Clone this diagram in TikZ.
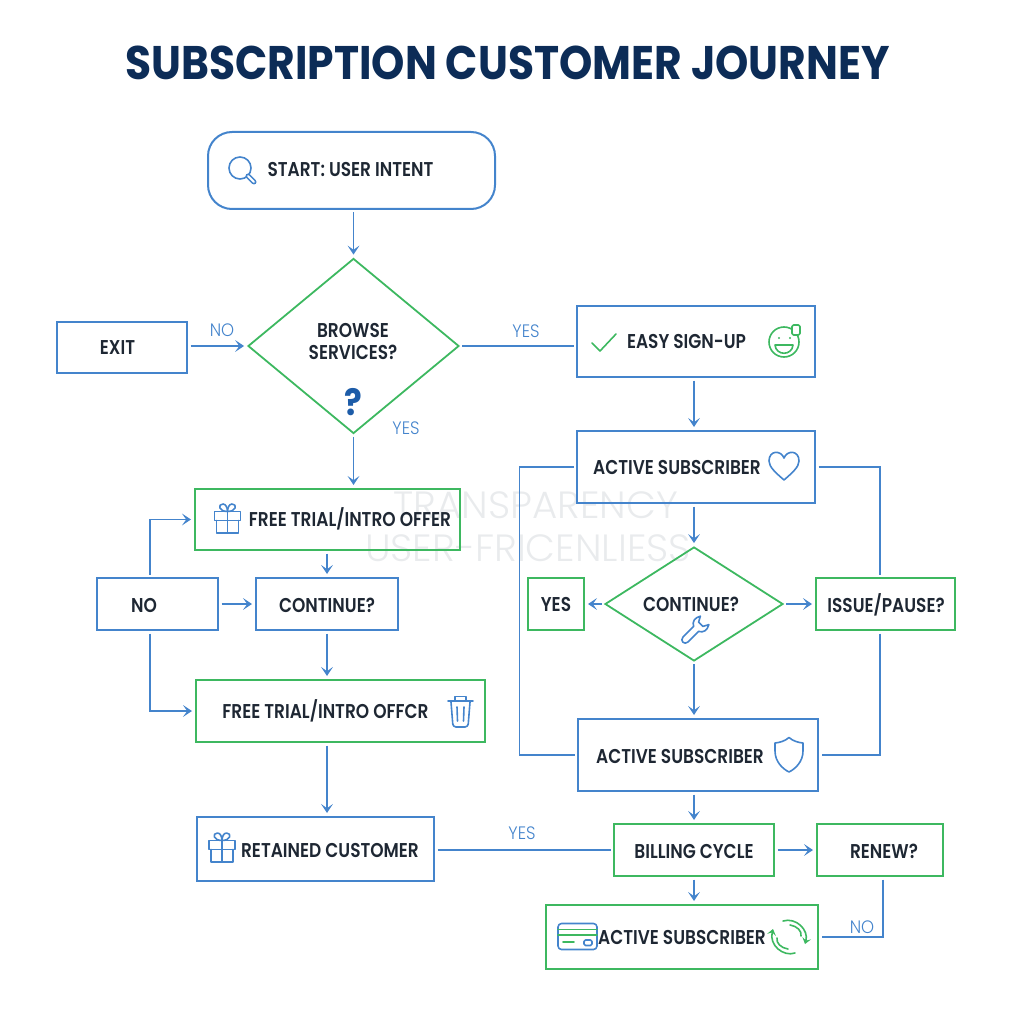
\documentclass[tikz,border=0pt]{standalone}
\usepackage{fontspec}
\usetikzlibrary{arrows.meta,shapes.geometric}
\setmainfont{Poppins}
\newfontfamily\lblfont{Poppins SemiBold}[FakeStretch=0.85]
\newfontfamily\thinfont{Poppins Light}[FakeStretch=0.92]
\newfontfamily\markfont{Poppins Light}[FakeStretch=1.02]
\newfontfamily\titlefont{Poppins}[FakeStretch=0.9,BoldFont={* Bold}]
\newdimen\px
\px=0.025cm
\definecolor{flowblue}{HTML}{4484CC}
\definecolor{flowgreen}{HTML}{3DB860}
\definecolor{inkdark}{HTML}{1E2733}
\definecolor{titlenavy}{HTML}{0C2C57}
\definecolor{markgrey}{HTML}{E9EBED}
\definecolor{querycol}{HTML}{1D5CA8}
\tikzset{
  bluebox/.style={draw=flowblue,line width=2\px,inner sep=0},
  greenbox/.style={draw=flowgreen,line width=2\px,inner sep=0},
  decision/.style={diamond,draw=flowgreen,line width=1.8\px,inner sep=0},
  boxtext/.style={font=\lblfont\fontsize{14.2}{15}\selectfont,text=inkdark,inner sep=0},
  branch/.style={font=\thinfont\fontsize{12.8}{14}\selectfont,text=flowblue,inner sep=0},
  flow/.style={draw=flowblue,line width=1.8\px,shorten <=2.5\px,shorten >=3\px,-{Stealth[length=6.4pt,width=8.4pt,inset=3pt]}},
  plainflow/.style={draw=flowblue,line width=1.8\px,shorten <=2.5\px,shorten >=2.5\px},
  iconblue/.style={draw=flowblue,line width=1.6\px,line join=round,line cap=round},
  icongreen/.style={draw=flowgreen,line width=1.6\px,line join=round,line cap=round},
  gift/.pic={
    \draw[iconblue] (-13,-7.5) rectangle (13,1.5);
    \draw[iconblue] (-11,1.5) -- (-11,14) -- (11,14) -- (11,1.5);
    \draw[iconblue] (0,-7.5) -- (0,14);
    \draw[iconblue] (0,-7.5) .. controls (-9,-7.5) and (-10,-15) .. (-4.5,-15) .. controls (-1.5,-15) and (0,-11) .. (0,-7.5);
    \draw[iconblue] (0,-7.5) .. controls (9,-7.5) and (10,-15) .. (4.5,-15) .. controls (1.5,-15) and (0,-11) .. (0,-7.5);
  }
}
\begin{document}
\begin{tikzpicture}[x=\px,y=-\px]
\useasboundingbox (0,0) rectangle (1024,1024);
% watermark
\node[font=\markfont\fontsize{27}{30}\selectfont,text=markgrey,inner sep=0] (markone) at (536,505) {TRANSPARENCY};
\node[font=\markfont\fontsize{27}{30}\selectfont,text=markgrey,inner sep=0] (marktwo) at (528,548) {USER-FRICENLIESS};

% title
\node[font=\titlefont\bfseries\fontsize{33.5}{38}\selectfont,text=titlenavy,inner sep=0] (title) at (507.5,63) {SUBSCRIPTION CUSTOMER JOURNEY};

% left column
\node[bluebox,rounded corners=24\px,minimum width=287\px,minimum height=77\px] (start) at (351.5,170.5) {};
\node[boxtext] (starttext) at (350.5,170) {START: USER INTENT};
\node[decision,minimum width=211\px,minimum height=175\px] (browse) at (353.5,346) {};
\node[boxtext,align=center] (browsetext) at (353,341.5) {BROWSE\\SERVICES?};
\node[font=\titlefont\bfseries\fontsize{26}{28}\selectfont,text=querycol,inner sep=0] (query) at (353,402) {?};
\node[bluebox,minimum width=130\px,minimum height=51\px] (exit) at (122,347.5) {};
\node[boxtext] (exittext) at (117.5,348) {EXIT};
\node[greenbox,minimum width=265\px,minimum height=61\px] (trial) at (327.5,519.5) {};
\node[boxtext] (trialtext) at (350,519) {FREE TRIAL/INTRO OFFER};
\node[bluebox,minimum width=121\px,minimum height=52\px] (retry) at (157.5,604) {};
\node[boxtext] (retrytext) at (144,605) {NO};
\node[bluebox,minimum width=142\px,minimum height=52\px] (again) at (327,604) {};
\node[boxtext] (againtext) at (327,605) {CONTINUE?};
\node[greenbox,minimum width=289\px,minimum height=62\px] (offer) at (340.5,711) {};
\node[boxtext] (offertext) at (325.5,711) {FREE TRIAL/INTRO OFFCR};
\node[bluebox,minimum width=237\px,minimum height=64\px] (retained) at (315.5,849) {};
\node[boxtext] (retainedtext) at (330,850) {RETAINED CUSTOMER};

% right column
\node[bluebox,minimum width=238\px,minimum height=71\px] (signup) at (696,341.5) {};
\node[boxtext] (signuptext) at (686.5,341.5) {EASY SIGN-UP};
\node[bluebox,minimum width=238\px,minimum height=72\px] (activeone) at (696,467) {};
\node[boxtext] (activeonetext) at (677,467) {ACTIVE SUBSCRIBER};
\node[decision,minimum width=178\px,minimum height=114\px] (keepon) at (694,604) {};
\node[boxtext] (keepontext) at (691,604) {CONTINUE?};
\node[greenbox,minimum width=56\px,minimum height=52\px] (yesbox) at (556,604) {};
\node[boxtext] (yesboxtext) at (556,604.5) {YES};
\node[greenbox,minimum width=139\px,minimum height=52\px] (issue) at (885.5,604) {};
\node[boxtext] (issuetext) at (886,604.5) {ISSUE/PAUSE?};
\node[bluebox,minimum width=240\px,minimum height=72\px] (activetwo) at (698,755) {};
\node[boxtext] (activetwotext) at (680,756) {ACTIVE SUBSCRIBER};
\node[greenbox,minimum width=160\px,minimum height=52\px] (billing) at (694,850) {};
\node[boxtext] (billingtext) at (694,851) {BILLING CYCLE};
\node[greenbox,minimum width=126\px,minimum height=52\px] (renew) at (880,850) {};
\node[boxtext] (renewtext) at (884,851) {RENEW?};
\node[greenbox,minimum width=272\px,minimum height=64\px] (activethree) at (682,937) {};
\node[boxtext] (activethreetext) at (682,937.5) {ACTIVE SUBSCRIBER};

% connectors
\draw[flow] (start.south -| browse.north) -- (browse.north);
\draw[flow] (exit.east |- browse.west) -- (browse.west);
\draw[plainflow] (browse.east) -- (browse.east -| signup.west);
\draw[flow] (browse.south) -- (browse.south |- trial.north);
\draw[flow] (trial.south -| again.north) -- (again.north);
\draw[flow] (retry.east) -- (again.west);
\draw[flow] (retry.north) ++(-7.5,0) |- (trial.west);
\draw[flow] (retry.south) ++(-7.5,0) |- (offer.west);
\draw[flow] (again.south) -- (again.south |- offer.north);
\draw[flow] (offer.south -| again.south) -- (retained.north -| again.south);
\draw[plainflow] (retained.east |- billing.west) -- (billing.west);
\draw[flow] (signup.south -| keepon.north) -- (activeone.north -| keepon.north);
\draw[flow] (activeone.south -| keepon.north) -- (keepon.north);
\draw[flow] (keepon.west) -- (yesbox.east);
\draw[flow] (keepon.east) -- (issue.west);
\draw[flow] (keepon.south) -- (activetwo.north -| keepon.south);
\draw[plainflow] (activeone.west) -- ++(-56.5,0) |- (activetwo.west);
\draw[plainflow] (activeone.east) -| (issue.north -| 880,0);
\draw[plainflow] (issue.south -| 880,0) |- (activetwo.east);
\draw[flow] (activetwo.south -| billing.north) -- (billing.north);
\draw[flow] (billing.east) -- (renew.west);
\draw[flow] (billing.south) -- (activethree.north -| billing.south);
\draw[plainflow] (renew.south) ++(3,0) |- (activethree.east);

% branch labels
\node[branch] (nolabel) at (222,330) {NO};
\node[branch] (yeslabel) at (526,331) {YES};
\node[branch] (yesdown) at (406,428) {YES};
\node[branch] (yesretained) at (522,833) {YES};
\node[branch] (norenew) at (862,927) {NO};

% icons
\draw[iconblue] (240,168) circle (11);
\draw[flowblue,line width=5\px,line cap=round] (248,176) -- (254,182);
\draw[white,line width=2\px,line cap=round] (248,176) -- (254,182);
\draw[icongreen] (592,343) -- (600,351) -- (616,334);
\draw[icongreen] (784,342) circle (15);
\fill[flowgreen] (779,338) circle (1.2);
\fill[flowgreen] (790,338) circle (1.2);
\draw[icongreen] (775,345) -- (793,345) .. controls (792,356) and (776,356) .. (775,345);
\draw[icongreen,fill=white,rounded corners=1.5\px] (792,325) rectangle (800,335);
\draw[iconblue] (784,480) .. controls (776,473) and (769,467) .. (769,461) .. controls (769,450) and (781,450) .. (784,458)
  .. controls (787,450) and (799,450) .. (799,461) .. controls (799,467) and (792,473) .. (784,480) -- cycle;
\begin{scope}[shift={(694,631)},rotate=-45]
  \draw[iconblue] (-3.5,12) .. controls (-3.5,17) and (3.5,17) .. (3.5,12) -- (3.5,-3) .. controls (8,-5) and (9,-10) .. (6,-15)
    -- (3,-9.5) -- (-3,-9.5) -- (-6,-15) .. controls (-9,-10) and (-8,-5) .. (-3.5,-3) -- cycle;
\end{scope}
\draw[iconblue] (789,737.5) .. controls (785,741) and (780,742.5) .. (775,743) -- (775,751) .. controls (775,762) and (783,769) .. (789,772)
  .. controls (795,769) and (803,762) .. (803,751) -- (803,743) .. controls (798,742.5) and (793,741) .. (789,737.5) -- cycle;
\draw[iconblue] (448,701) -- (473,701);
\draw[iconblue] (455,701) -- (455,696.5) -- (466,696.5) -- (466,701);
\draw[iconblue,rounded corners=3\px] (451,702) -- (453,727) -- (468,727) -- (470,702);
\draw[iconblue] (457,707) -- (457.5,721);
\draw[iconblue] (464,707) -- (463.5,721);
\pic at (227.5,519) {gift};
\pic at (222,848) {gift};
\draw[iconblue,rounded corners=3.5\px] (558,923.5) rectangle (597,949.5);
\draw[icongreen] (558,929.5) -- (597,929.5);
\draw[icongreen] (558,935) -- (597,935);
\draw[icongreen] (563,942) -- (574,942);
\draw[iconblue,rounded corners=1.5\px] (584,940) rectangle (592,945.5);
% renewal arrows
\draw[icongreen,-{Stealth[length=4.3pt,width=6.4pt,inset=1.8pt]}] (783,921) .. controls (796,917) and (809,930) .. (805,944);
\draw[icongreen,-{Stealth[length=4.3pt,width=6.4pt,inset=1.8pt]}] (795,953) .. controls (783,957) and (769,945) .. (773,929);
\draw[icongreen] (790,925) .. controls (797,926) and (802,931) .. (801,936);
\draw[icongreen] (788,949) .. controls (781,948) and (776,943) .. (777,938);
\end{tikzpicture}
\end{document}
